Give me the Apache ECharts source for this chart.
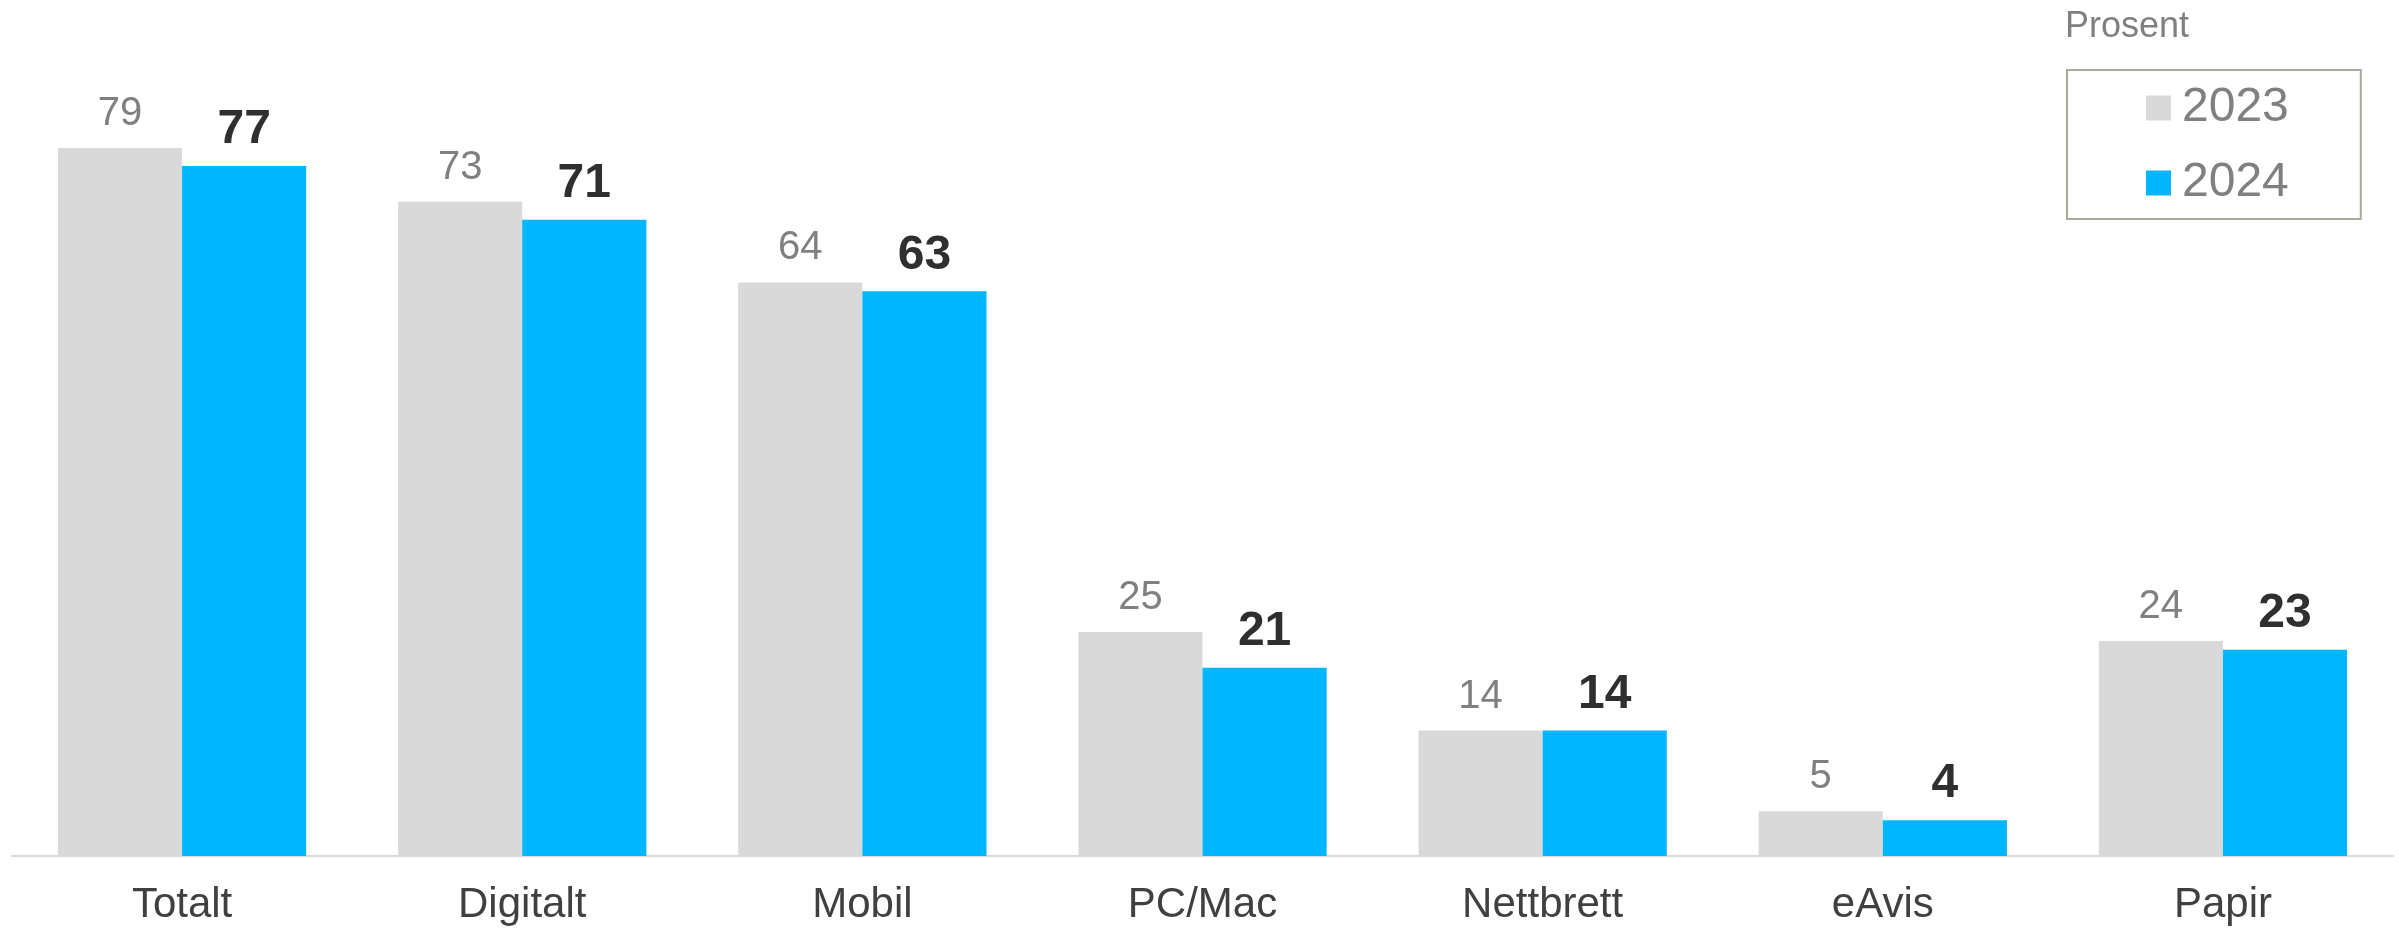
<!DOCTYPE html>
<html>
<head>
<meta charset="utf-8">
<script src="https://cdn.jsdelivr.net/npm/echarts@6/dist/echarts.min.js"></script>
<style>
  html, body { margin: 0; padding: 0; background: #ffffff; }
  #chart { width: 2399px; height: 929px; }
</style>
</head>
<body>
<div id="chart"></div>
<script>
// Data
const categories = ['Totalt', 'Digitalt', 'Mobil', 'PC/Mac', 'Nettbrett', 'eAvis', 'Papir'];
const values2023 = [79, 73, 64, 25, 14, 5, 24];
const values2024 = [77, 71, 63, 21, 14, 4, 23];
const seriesNames = ['2023', '2024'];

const font = '"Liberation Sans", Arial, sans-serif';

const chart = echarts.init(document.getElementById('chart'));

const option = {
  animation: false,
  textStyle: { fontFamily: font },
  title: {
    text: 'Prosent',
    left: 2060,
    top: 4,
    textStyle: { color: '#808080', fontSize: 36, fontWeight: 'normal', fontFamily: font }
  },
  legend: {
    data: seriesNames,
    orient: 'vertical',
    left: 2067,
    top: 70,
    padding: [14, 72, 12, 79],
    itemWidth: 25,
    itemHeight: 25,
    itemGap: 27,
    icon: 'rect',
    borderColor: '#a9ab9a',
    borderWidth: 2,
    textStyle: { color: '#808080', fontSize: 48, fontFamily: font, padding: [0, 0, 0, 6] }
  },
  grid: {
    left: 12,
    right: 6,
    top: 139,
    bottom: 73
  },
  xAxis: {
    type: 'category',
    data: categories,
    axisLine: { lineStyle: { color: '#d9d9d9', width: 2 } },
    axisTick: { show: false },
    axisLabel: { color: '#404040', fontSize: 42, fontFamily: font, margin: 28 }
  },
  yAxis: {
    type: 'value',
    min: 0,
    max: 80,
    show: false,
    splitLine: { show: false }
  },
  series: [
    {
      name: seriesNames[0],
      type: 'bar',
      data: values2023,
      barGap: '0%',
      barCategoryGap: '27%',
      itemStyle: { color: '#d9d9d9' },
      label: {
        show: true,
        position: 'top',
        distance: 14,
        color: '#808080',
        fontSize: 40,
        fontFamily: font
      }
    },
    {
      name: seriesNames[1],
      type: 'bar',
      data: values2024,
      itemStyle: { color: '#00b6ff' },
      label: {
        show: true,
        position: 'top',
        distance: 12,
        color: '#2f2f2f',
        fontSize: 48,
        fontWeight: 'bold',
        fontFamily: font
      }
    }
  ]
};

chart.setOption(option);
</script>
</body>
</html>
